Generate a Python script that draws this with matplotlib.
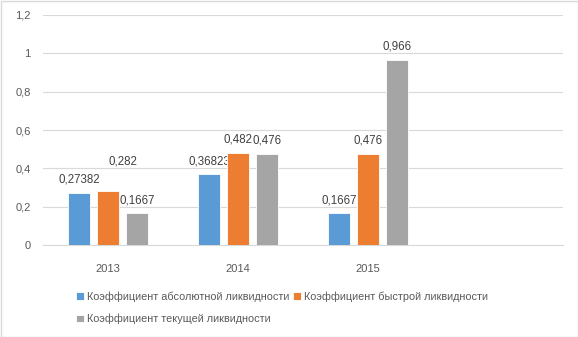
import matplotlib
matplotlib.use("Agg")
import matplotlib.pyplot as plt
import numpy as np
from matplotlib.patches import Rectangle

categories = ["2013", "2014", "2015", ""]
series_names = ["Коэффициент абсолютной ликвидности",
                "Коэффициент быстрой ликвидности",
                "Коэффициент текущей ликвидности"]
abs_liq = [0.27382, 0.36823, 0.1667]
quick_liq = [0.282, 0.482, 0.476]
cur_liq = [0.1667, 0.476, 0.966]
label_abs = ["0,27382", "0,36823", "0,1667"]
label_quick = ["0,282", "0,482", "0,476"]
label_cur = ["0,1667", "0,476", "0,966"]
yticks = [0, 0.2, 0.4, 0.6, 0.8, 1.0, 1.2]
ytick_labels = ["0", "0,2", "0,4", "0,6", "0,8", "1", "1,2"]

colors = ["#5B9BD5", "#ED7D31", "#A5A5A5"]
plt.rcParams['font.family'] = ['Liberation Sans', 'DejaVu Sans']

fig = plt.figure(figsize=(5.78, 3.37), dpi=100)
ax = fig.add_axes([43/578, 1-245/337, 520/578, 230/337])

x = np.arange(3)
off = 0.223
w = 0.17
series = [abs_liq, quick_liq, cur_liq]
labels = [label_abs, label_quick, label_cur]
handles = []
for i, (vals, lab) in enumerate(zip(series, labels)):
    b = ax.bar(x + (i - 1) * off, vals, width=w, color=colors[i],
               edgecolor="white", linewidth=0.6, zorder=3, label=series_names[i])
    handles.append(b)
    for j, (rect, t) in enumerate(zip(b, lab)):
        dx, dy = 0, 5
        if i == 1 and j == 0:
            dx, dy = 11, 17
        ax.annotate(t, (rect.get_x() + rect.get_width()/2, rect.get_height()),
                    xytext=(dx, dy), textcoords="offset points",
                    ha="center", va="bottom", fontsize=8.3, color="#404040")

ax.set_xlim(-0.5, 3.5)
ax.set_ylim(0, 1.2)
ax.set_yticks(yticks)
ax.set_yticklabels(ytick_labels)
ax.set_xticks(np.arange(4))
ax.set_xticklabels(categories)
ax.tick_params(axis="y", length=0, pad=9, labelsize=8, labelcolor="#595959")
ax.tick_params(axis="x", length=0, pad=14, labelsize=8, labelcolor="#595959")
ax.grid(axis="y", color="#D9D9D9", linewidth=0.8, zorder=0)
for s in ["top", "right", "left"]:
    ax.spines[s].set_visible(False)
ax.spines["bottom"].set_color("#D9D9D9")
ax.spines["bottom"].set_linewidth(0.8)

leg = fig.legend([handles[0], handles[2], handles[1]],
                 [series_names[0], series_names[2], series_names[1]],
                 ncol=2, loc="upper left", bbox_to_anchor=(76/578, 1-291/337),
                 frameon=False, fontsize=7.8, handlelength=0.7, handleheight=0.7,
                 handletextpad=0.3, columnspacing=0.35, labelspacing=1.15,
                 borderaxespad=0, borderpad=0)
for t in leg.get_texts():
    t.set_color("#595959")

fig.patches.append(Rectangle((0.5/578, 0.5/337), 1-1/578, 1-1/337, transform=fig.transFigure,
                             fill=False, edgecolor="#D9D9D9", linewidth=1))

fig.savefig("out.png", dpi=100)
